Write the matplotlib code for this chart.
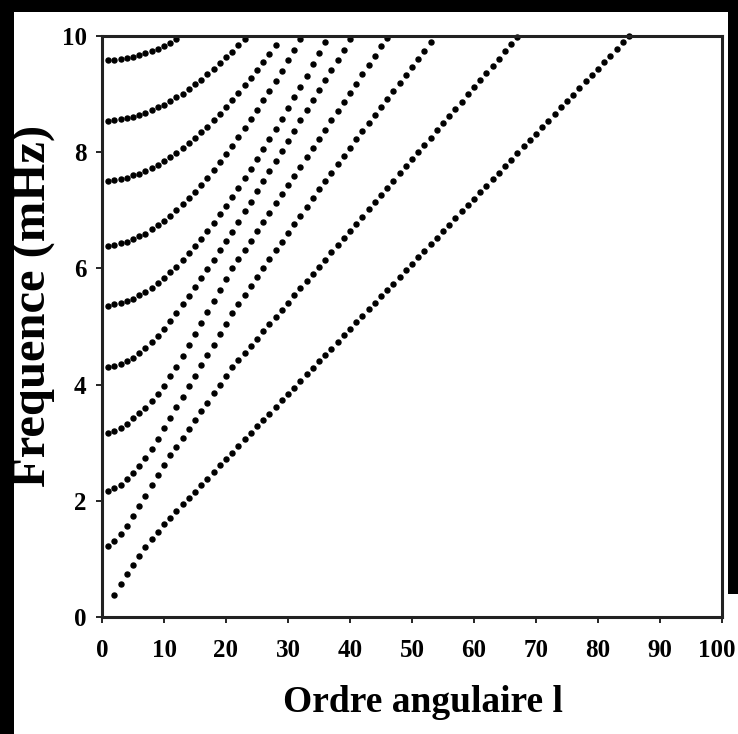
import numpy as np
import matplotlib.pyplot as plt
import matplotlib.transforms as mtransforms
from matplotlib.patches import Rectangle

# frequences (mHz), une liste par crete, l = degre entier
l_start = [2, 1, 1, 1, 1, 1, 1, 1, 1, 1]

nu_0 = [0.38, 0.57, 0.74, 0.90, 1.05, 1.20, 1.34, 1.47, 1.60,
        1.71, 1.82, 1.94, 2.05, 2.16, 2.27, 2.38, 2.50, 2.61, 2.72,
        2.83, 2.94, 3.06, 3.17, 3.28, 3.39, 3.50, 3.62, 3.73, 3.84,
        3.95, 4.06, 4.18, 4.29, 4.40, 4.51, 4.62, 4.74, 4.85, 4.96,
        5.07, 5.18, 5.30, 5.41, 5.52, 5.63, 5.74, 5.86, 5.97, 6.08,
        6.19, 6.30, 6.42, 6.53, 6.64, 6.75, 6.86, 6.98, 7.09, 7.20,
        7.31, 7.42, 7.54, 7.65, 7.76, 7.87, 7.98, 8.10, 8.21, 8.32,
        8.43, 8.54, 8.66, 8.77, 8.88, 8.99, 9.10, 9.22, 9.33, 9.44,
        9.55, 9.66, 9.78, 9.89, 10.00]
nu_1 = [1.22, 1.30, 1.42, 1.57, 1.74, 1.91, 2.08, 2.27, 2.44, 2.62,
        2.78, 2.93, 3.08, 3.24, 3.39, 3.54, 3.69, 3.85, 4.00, 4.15,
        4.30, 4.42, 4.55, 4.67, 4.79, 4.92, 5.04, 5.16, 5.29, 5.41,
        5.54, 5.66, 5.78, 5.91, 6.03, 6.15, 6.28, 6.40, 6.52, 6.65,
        6.77, 6.89, 7.02, 7.14, 7.27, 7.39, 7.51, 7.64, 7.76, 7.88,
        8.01, 8.13, 8.25, 8.38, 8.50, 8.63, 8.75, 8.87, 9.00, 9.12,
        9.24, 9.37, 9.49, 9.61, 9.74, 9.86, 9.98]
nu_2 = [2.17, 2.22, 2.28, 2.37, 2.48, 2.60, 2.74, 2.90, 3.06, 3.25,
        3.43, 3.61, 3.79, 3.97, 4.15, 4.33, 4.51, 4.69, 4.87, 5.05,
        5.23, 5.39, 5.55, 5.70, 5.86, 6.01, 6.16, 6.31, 6.46, 6.61,
        6.76, 6.91, 7.06, 7.21, 7.36, 7.51, 7.65, 7.80, 7.94, 8.08,
        8.22, 8.36, 8.50, 8.64, 8.78, 8.92, 9.05, 9.19, 9.33, 9.47,
        9.61, 9.75, 9.89]
nu_3 = [3.17, 3.20, 3.25, 3.33, 3.42, 3.51, 3.60, 3.71, 3.84, 3.98,
        4.14, 4.31, 4.49, 4.68, 4.87, 5.06, 5.25, 5.44, 5.63, 5.82,
        6.00, 6.16, 6.32, 6.48, 6.64, 6.80, 6.96, 7.12, 7.28, 7.43,
        7.59, 7.75, 7.91, 8.07, 8.23, 8.39, 8.55, 8.71, 8.86, 9.02,
        9.18, 9.34, 9.50, 9.66, 9.82, 9.97]
nu_4 = [4.30, 4.32, 4.35, 4.40, 4.46, 4.54, 4.63, 4.73, 4.84, 4.96,
        5.09, 5.23, 5.38, 5.53, 5.68, 5.83, 5.99, 6.15, 6.31, 6.47,
        6.63, 6.80, 6.98, 7.15, 7.33, 7.50, 7.68, 7.85, 8.02, 8.20,
        8.37, 8.55, 8.72, 8.89, 9.07, 9.24, 9.42, 9.59, 9.76, 9.94]
nu_5 = [5.36, 5.38, 5.40, 5.44, 5.48, 5.54, 5.60, 5.67, 5.75, 5.84,
        5.93, 6.03, 6.14, 6.26, 6.38, 6.51, 6.65, 6.78, 6.93, 7.08,
        7.23, 7.39, 7.55, 7.71, 7.88, 8.05, 8.23, 8.40, 8.58, 8.76,
        8.95, 9.13, 9.32, 9.51, 9.70, 9.90]
nu_6 = [6.39, 6.41, 6.43, 6.46, 6.50, 6.55, 6.60, 6.67, 6.74, 6.82,
        6.91, 7.00, 7.10, 7.21, 7.32, 7.44, 7.56, 7.69, 7.83, 7.97,
        8.11, 8.26, 8.41, 8.57, 8.73, 8.89, 9.06, 9.23, 9.40, 9.58,
        9.76, 9.94]
nu_7 = [7.51, 7.52, 7.54, 7.56, 7.60, 7.63, 7.68, 7.73, 7.78, 7.85,
        7.91, 7.99, 8.07, 8.15, 8.25, 8.34, 8.44, 8.55, 8.66, 8.77,
        8.89, 9.02, 9.15, 9.28, 9.41, 9.55, 9.69, 9.84]
nu_8 = [8.54, 8.55, 8.57, 8.59, 8.61, 8.64, 8.68, 8.72, 8.77, 8.82,
        8.88, 8.95, 9.01, 9.09, 9.17, 9.25, 9.34, 9.43, 9.53, 9.63,
        9.73, 9.84, 9.95]
nu_9 = [9.58, 9.59, 9.60, 9.62, 9.64, 9.67, 9.70, 9.74, 9.78, 9.83,
        9.88, 9.94]

ridges = [nu_0, nu_1, nu_2, nu_3, nu_4, nu_5, nu_6, nu_7, nu_8, nu_9]

x_ticks = [0, 10, 20, 30, 40, 50, 60, 70, 80, 90, 100]
y_ticks = [0, 2, 4, 6, 8, 10]

plt.rcParams['font.family'] = ['Liberation Serif', 'DejaVu Serif']
plt.rcParams['font.weight'] = 'bold'

fig = plt.figure(figsize=(7.38, 7.34), dpi=100, facecolor='black')
# fond blanc de la diapositive (derriere les axes)
fig.patches.append(Rectangle((14 / 738, 0), 714 / 738, 722 / 734,
                             transform=fig.transFigure, facecolor='white',
                             edgecolor='none', zorder=-10))
fig.patches.append(Rectangle((14 / 738, 0), 724 / 738, 140 / 734,
                             transform=fig.transFigure, facecolor='white',
                             edgecolor='none', zorder=-10))

ax = fig.add_axes([102 / 738, 117 / 734, 620 / 738, 581 / 734])
ax.set_facecolor('white')

for l0, nu in zip(l_start, ridges):
    l = np.arange(l0, l0 + len(nu))
    ax.plot(l, nu, linestyle='none', marker='o', markersize=3.6,
            color='black', clip_on=False)

ax.set_xlim(0, 100)
ax.set_ylim(0, 10)
ax.set_xticks(x_ticks)
ax.set_yticks(y_ticks)
ax.tick_params(direction='out', length=4, width=1.2, labelsize=18,
               colors='black')
ax.tick_params(axis='x', pad=12)
ax.tick_params(axis='y', pad=7)
for s in ax.spines.values():
    s.set_linewidth(2.2)
    s.set_color('#222222')

# le "100" est colle au bord droit
lab = ax.get_xticklabels()[-1]
lab.set_transform(lab.get_transform() +
                  mtransforms.ScaledTranslation(-5 / 100, 0, fig.dpi_scale_trans))

fig.text(423 / 738, 1 - 702 / 734, 'Ordre angulaire l', ha='center',
         va='center', fontsize=27, fontweight='bold')
fig.text(34 / 738, 1 - 306 / 734, 'Frequence (mHz)', ha='center',
         va='center', rotation=90, fontsize=35, fontweight='bold')

fig.savefig('out.png', dpi=100, facecolor=fig.get_facecolor())
